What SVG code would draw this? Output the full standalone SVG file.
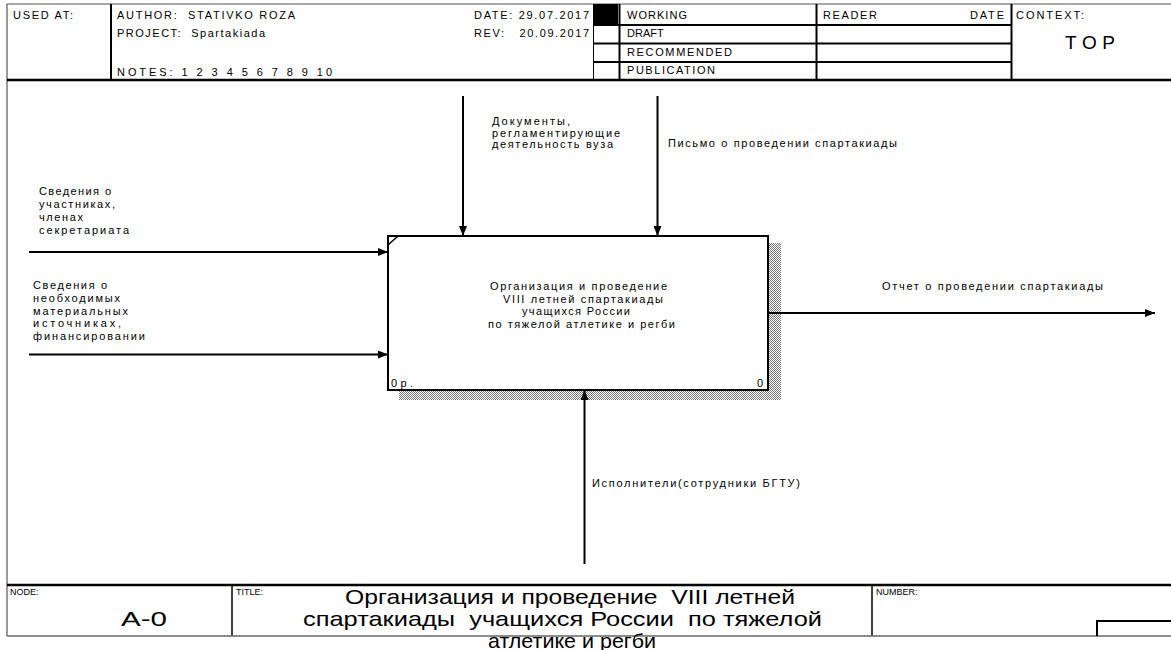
<svg xmlns="http://www.w3.org/2000/svg" width="1171" height="650" viewBox="0 0 1171 650">
<style>
.t{font-family:"Liberation Sans",Arial,sans-serif;font-size:11px;fill:#000}
.s{font-size:9px}
.big{font-size:21px}
.top{font-size:19px}
.ln{stroke:#000;fill:none}
.fr{stroke:#555;stroke-width:1.2;fill:none}
.arr{stroke:#000;stroke-width:2;fill:none;marker-end:url(#ah)}
</style>
<defs>
<marker id="ah" markerWidth="10" markerHeight="8" refX="10" refY="4" orient="auto" markerUnits="userSpaceOnUse">
<path d="M0,0 L10,4 L0,8 Z" fill="#000"/>
</marker>
<pattern id="hatch" width="2" height="2" patternUnits="userSpaceOnUse">
<rect width="2" height="2" fill="#fff"/>
<rect width="1" height="1" fill="#777"/>
<rect x="1" y="1" width="1" height="1" fill="#777"/>
</pattern>
</defs>
<rect width="1171" height="650" fill="#fff"/>

<g id="frame">
<line class="fr" x1="7" y1="4" x2="1171" y2="4"/>
<line class="fr" x1="7" y1="4" x2="7" y2="636"/>
<line class="ln" stroke-width="2.5" x1="7" y1="80" x2="1171" y2="80"/>
<line class="ln" stroke-width="2" x1="111" y1="4" x2="111" y2="80"/>
<line class="ln" stroke-width="1" x1="593.5" y1="4" x2="593.5" y2="80"/>
<rect x="593" y="4" width="25" height="21" fill="#000"/>
<line class="ln" stroke-width="2" x1="619.5" y1="4" x2="619.5" y2="80"/>
<line class="ln" stroke-width="2" x1="816.5" y1="4" x2="816.5" y2="80"/>
<line class="ln" stroke-width="2" x1="1011.5" y1="4" x2="1011.5" y2="80"/>
<line class="ln" stroke-width="2" x1="593" y1="25" x2="1011" y2="25"/>
<line class="ln" stroke-width="2" x1="593" y1="43.5" x2="1011" y2="43.5"/>
<line class="ln" stroke-width="2" x1="593" y1="62" x2="1011" y2="62"/>
<text class="t" x="13" y="19" textLength="60" lengthAdjust="spacing">USED AT:</text>
<text class="t" x="117" y="19" textLength="178" lengthAdjust="spacing" xml:space="preserve">AUTHOR:  STATIVKO ROZA</text>
<text class="t" x="117" y="37" textLength="148" lengthAdjust="spacing" xml:space="preserve">PROJECT:  Spartakiada</text>
<text class="t" x="117" y="76" textLength="215" lengthAdjust="spacing">NOTES: 1 2 3 4 5 6 7 8 9 10</text>
<text class="t" x="474" y="19" textLength="115" lengthAdjust="spacing">DATE: 29.07.2017</text>
<text class="t" x="474" y="37" textLength="115" lengthAdjust="spacing" xml:space="preserve">REV:   20.09.2017</text>
<text class="t" x="627" y="19" textLength="60" lengthAdjust="spacing">WORKING</text>
<text class="t" x="627" y="37">DRAFT</text>
<text class="t" x="627" y="56" textLength="105" lengthAdjust="spacing">RECOMMENDED</text>
<text class="t" x="627" y="74" textLength="88" lengthAdjust="spacing">PUBLICATION</text>
<text class="t" x="823" y="19" textLength="54" lengthAdjust="spacing">READER</text>
<text class="t" x="970" y="19" textLength="34" lengthAdjust="spacing">DATE</text>
<text class="t" x="1016" y="19" textLength="68" lengthAdjust="spacing">CONTEXT:</text>
<text class="t top" x="1065" y="49" textLength="50" lengthAdjust="spacing">TOP</text>

<line class="ln" stroke-width="2.5" x1="7" y1="585" x2="1171" y2="585"/>
<line class="ln" stroke-width="1.5" x1="232" y1="585" x2="232" y2="636"/>
<line class="ln" stroke-width="1.5" x1="872" y1="585" x2="872" y2="636"/>
<line stroke="#666" stroke-width="1.5" x1="7" y1="636" x2="1171" y2="636"/>
<polyline class="ln" stroke-width="2" points="1097,636 1097,621 1171,621"/>
<text class="t s" x="10" y="595">NODE:</text>
<text class="t s" x="236" y="595">TITLE:</text>
<text class="t s" x="876" y="595">NUMBER:</text>
<text class="t big" x="121" y="626" textLength="46" lengthAdjust="spacingAndGlyphs">A-0</text>
<text class="t big" x="345" y="604" textLength="450" lengthAdjust="spacingAndGlyphs" xml:space="preserve">Организация и проведение  VIII летней</text>
<text class="t big" x="303" y="626" textLength="519" lengthAdjust="spacingAndGlyphs" xml:space="preserve">спартакиады  учащихся России  по тяжелой</text>
<text class="t big" x="488" y="648" textLength="168" lengthAdjust="spacingAndGlyphs">атлетике и регби</text>
</g>

<g id="node-A0">
<rect x="768" y="243" width="13" height="157" fill="url(#hatch)"/>
<rect x="399" y="390" width="382" height="10" fill="url(#hatch)"/>
<rect x="388" y="236" width="380" height="154" fill="#fff" stroke="#000" stroke-width="2"/>
<line class="ln" stroke-width="1.5" x1="388" y1="245" x2="398" y2="236"/>
<text class="t" x="490" y="290" textLength="177" lengthAdjust="spacing">Организация и проведение</text>
<text class="t" x="503" y="302.5" textLength="160" lengthAdjust="spacing">VIII летней спартакиады</text>
<text class="t" x="522" y="315" textLength="108" lengthAdjust="spacing">учащихся России</text>
<text class="t" x="488" y="327.5" textLength="187" lengthAdjust="spacing">по тяжелой атлетике и регби</text>
<text class="t" x="391" y="387" textLength="22" lengthAdjust="spacing">0р.</text>
<text class="t" x="757" y="387">0</text>
</g>

<g id="connectors">
<line class="arr" x1="29" y1="252" x2="388" y2="252"/>
<line class="arr" x1="29" y1="354.5" x2="388" y2="354.5"/>
<line class="arr" x1="463" y1="96" x2="463" y2="236"/>
<line class="arr" x1="657.5" y1="96" x2="657.5" y2="236"/>
<line class="arr" x1="768" y1="313" x2="1155" y2="313"/>
<line class="arr" x1="584.5" y1="564" x2="584.5" y2="390"/>

<g id="lbl-in1">
<text class="t" x="39" y="195" textLength="72" lengthAdjust="spacing">Сведения о</text>
<text class="t" x="39" y="208" textLength="76" lengthAdjust="spacing">участниках,</text>
<text class="t" x="39" y="221" textLength="44" lengthAdjust="spacing">членах</text>
<text class="t" x="39" y="234" textLength="90" lengthAdjust="spacing">секретариата</text>
</g>
<g id="lbl-in2">
<text class="t" x="33" y="289" textLength="74" lengthAdjust="spacing">Сведения о</text>
<text class="t" x="33" y="302" textLength="87" lengthAdjust="spacing">необходимых</text>
<text class="t" x="33" y="314.5" textLength="95" lengthAdjust="spacing">материальных</text>
<text class="t" x="33" y="327" textLength="88" lengthAdjust="spacing">источниках,</text>
<text class="t" x="33" y="340" textLength="112" lengthAdjust="spacing">финансировании</text>
</g>
<g id="lbl-ctrl1">
<text class="t" x="492" y="125" textLength="78" lengthAdjust="spacing">Документы,</text>
<text class="t" x="492" y="136.5" textLength="128" lengthAdjust="spacing">регламентирующие</text>
<text class="t" x="492" y="148" textLength="121" lengthAdjust="spacing">деятельность вуза</text>
</g>
<text class="t" x="668" y="147" textLength="229" lengthAdjust="spacing">Письмо о проведении спартакиады</text>
<text class="t" x="882" y="290" textLength="221" lengthAdjust="spacing">Отчет о проведении спартакиады</text>
<text class="t" x="592" y="487" textLength="208" lengthAdjust="spacing">Исполнители(сотрудники БГТУ)</text>
</g>
</svg>
